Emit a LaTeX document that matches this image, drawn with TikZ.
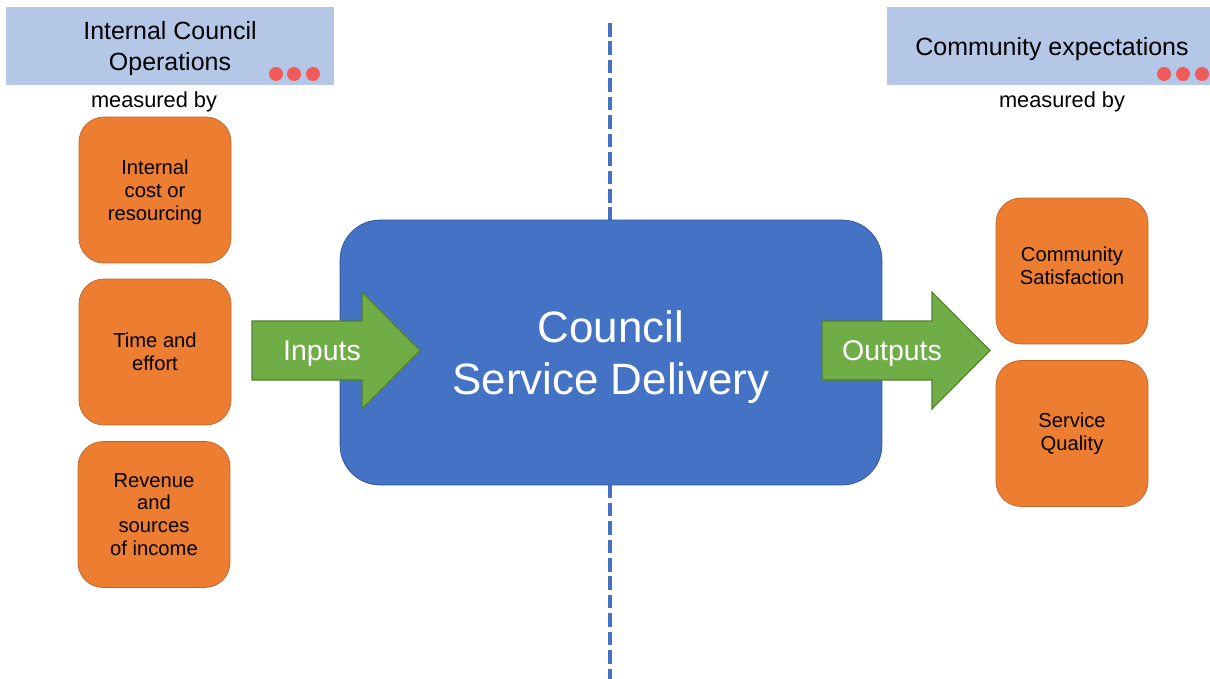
\documentclass[tikz,border=0pt]{standalone}
\usepackage{fontspec}
\setmainfont{Liberation Sans}
\usetikzlibrary{calc}
\definecolor{headblue}{HTML}{B4C7E7}
\definecolor{dotred}{HTML}{EF5A5A}
\definecolor{boxorange}{HTML}{ED7D31}
\definecolor{orangeline}{HTML}{C0652A}
\definecolor{mainblue}{HTML}{4472C4}
\definecolor{mainline}{HTML}{2F528F}
\definecolor{arrowgreen}{HTML}{70AD47}
\definecolor{greenline}{HTML}{507E32}
\tikzset{
  header/.style={fill=headblue, minimum width=6.56cm, minimum height=1.56cm, inner sep=0pt,
    align=center, text depth=0pt, font=\fontsize{14.2}{17.2}\selectfont},
  measurebox/.style={draw=orangeline, fill=boxorange, rounded corners=0.5cm,
    minimum width=3.04cm, minimum height=2.92cm, align=center, font=\fontsize{11.5}{13}\selectfont},
  flowarrow/.style={draw=greenline, fill=arrowgreen, line width=0.6pt},
  arrowtext/.style={text=white, text depth=0pt, font=\fontsize{16.2}{19}\selectfont},
  smalltext/.style={text depth=0pt, font=\fontsize{12.4}{14}\selectfont}
}

\begin{document}
\begin{tikzpicture}[x=0.02cm, y=-0.02cm]
\useasboundingbox (0,0) rectangle (1210,679);
\draw[mainblue, line width=2pt, dash pattern=on 7.7pt off 2.8pt] (610,23) -- (610,679);
% headers
\node[header] (ops) at (170,46) {Internal Council\\Operations};
\node[header, minimum width=6.6cm] (comm) at (1052,46) {Community expectations};
\foreach \x in {276,294,313}
\fill[dotred] (\x,74) circle (7);
\foreach \x in {1164,1183,1202}
\fill[dotred] (\x,74) circle (7);
\node[smalltext] (opsby) at (154,100) {measured by};
\node[smalltext] (commby) at (1062,100) {measured by};
% measures
\node[measurebox, text depth=0pt] (cost) at (155,190) {Internal\\cost or\\resourcing};
\node[measurebox] (effort) at (155,352) {Time and\\effort};
\node[measurebox] (income) at (154,514.5) {Revenue\\and\\sources\\of income};
\node[measurebox, text depth=5.6pt] (satisfaction) at (1072,271) {Community\\Satisfaction};
\node[measurebox] (quality) at (1072,433.5) {Service\\Quality};
% service delivery
\node[draw=mainline, fill=mainblue, rounded corners=0.8cm, minimum width=10.84cm, minimum height=5.3cm,
  text=white, align=center, text depth=0pt, font=\fontsize{25}{30}\selectfont] (delivery) at (611,352.5) {Council\\Service Delivery};
% arrows
\filldraw[flowarrow] (252,321) -- (362,321) -- (362,292) -- (420,350.5) -- (362,409) -- (362,380) -- (252,380) -- cycle;
\node[arrowtext] (inputs) at (322,351) {Inputs};
\filldraw[flowarrow] (822,321) -- (932,321) -- (932,292) -- (990,350.5) -- (932,409) -- (932,380) -- (822,380) -- cycle;
\node[arrowtext] (outputs) at (892,351) {Outputs};
\end{tikzpicture}
\end{document}
